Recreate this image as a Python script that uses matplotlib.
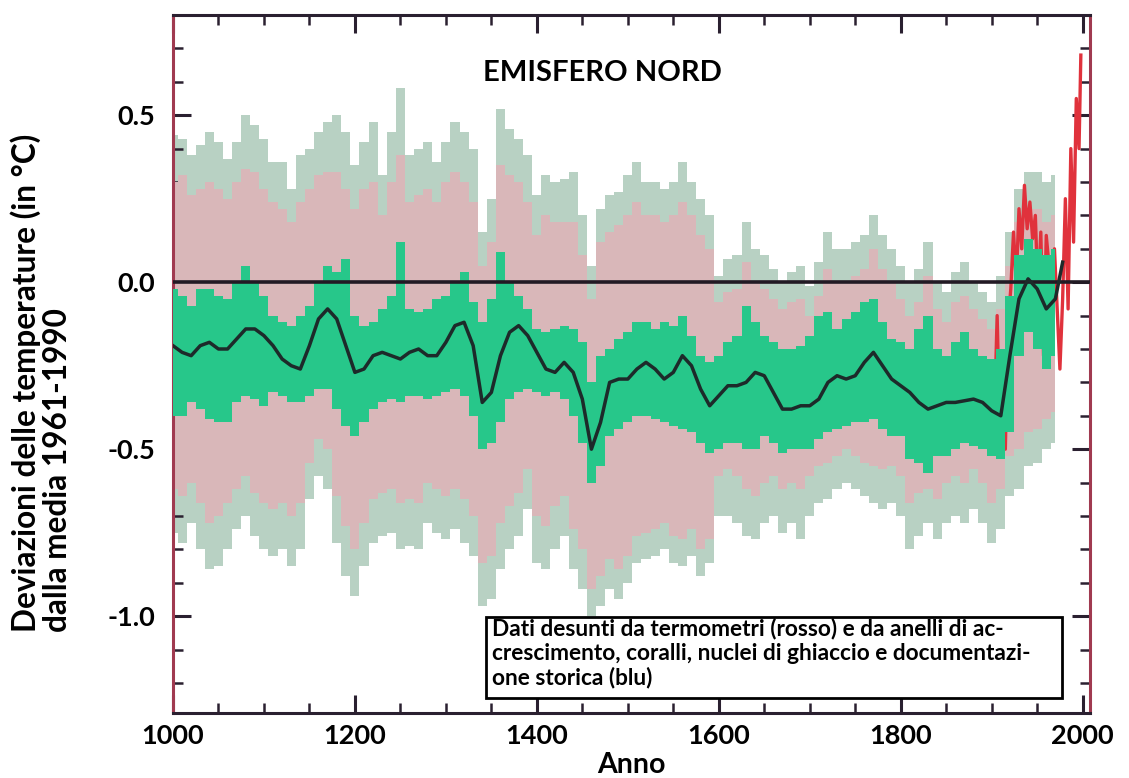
import numpy as np
import matplotlib.pyplot as plt
from matplotlib.patches import Rectangle
from matplotlib.ticker import MultipleLocator

plt.rcParams['font.family'] = ['Lato', 'DejaVu Sans']
plt.rcParams['font.weight'] = 'bold'

# ricostruzione da proxy, valori per decennio
anni = np.arange(1000, 1971, 10)

grigio_hi = [0.44, 0.43, 0.38, 0.41, 0.45, 0.42, 0.37, 0.42, 0.50, 0.47,
             0.43, 0.36, 0.36, 0.28, 0.38, 0.40, 0.45, 0.48, 0.50, 0.45,
             0.35, 0.42, 0.48, 0.32, 0.45, 0.58, 0.38, 0.40, 0.42, 0.36,
             0.42, 0.48, 0.45, 0.40, 0.15, 0.25, 0.52, 0.46, 0.43, 0.38,
             0.26, 0.32, 0.30, 0.31, 0.33, 0.20, 0.05, 0.22, 0.26, 0.27,
             0.32, 0.36, 0.30, 0.30, 0.28, 0.30, 0.36, 0.30, 0.25, 0.20,
             0.02, 0.07, 0.08, 0.18, 0.10, 0.08, 0.04, 0.00, 0.03, 0.05,
             -0.01, 0.06, 0.15, 0.10, 0.10, 0.12, 0.14, 0.20, 0.14, 0.10,
             0.05, 0.00, 0.04, 0.12, 0.00, -0.03, 0.03, 0.06, 0.00, -0.03,
             -0.06, 0.02, 0.15, 0.28, 0.33, 0.33, 0.30, 0.32]

grigio_lo = [-0.75, -0.78, -0.72, -0.80, -0.86, -0.85, -0.80, -0.74, -0.70, -0.76,
             -0.80, -0.82, -0.80, -0.85, -0.80, -0.65, -0.58, -0.62, -0.78, -0.88,
             -0.94, -0.85, -0.78, -0.76, -0.75, -0.80, -0.79, -0.80, -0.72, -0.75,
             -0.77, -0.74, -0.78, -0.82, -0.97, -0.95, -0.86, -0.80, -0.76, -0.68,
             -0.84, -0.86, -0.80, -0.76, -0.86, -0.92, -1.00, -0.97, -0.92, -0.95,
             -0.90, -0.84, -0.83, -0.82, -0.80, -0.84, -0.85, -0.82, -0.88, -0.84,
             -0.70, -0.70, -0.72, -0.76, -0.77, -0.72, -0.70, -0.75, -0.72, -0.77,
             -0.70, -0.66, -0.65, -0.62, -0.60, -0.62, -0.64, -0.66, -0.68, -0.66,
             -0.70, -0.80, -0.76, -0.72, -0.77, -0.72, -0.70, -0.72, -0.68, -0.72,
             -0.78, -0.74, -0.64, -0.62, -0.55, -0.54, -0.50, -0.48]

rosa_hi = [0.30, 0.32, 0.26, 0.28, 0.30, 0.28, 0.25, 0.30, 0.34, 0.33,
           0.28, 0.24, 0.22, 0.18, 0.24, 0.28, 0.32, 0.33, 0.33, 0.28,
           0.22, 0.28, 0.30, 0.20, 0.30, 0.38, 0.24, 0.26, 0.28, 0.24,
           0.30, 0.33, 0.30, 0.24, 0.05, 0.12, 0.35, 0.32, 0.30, 0.24,
           0.14, 0.20, 0.18, 0.18, 0.18, 0.08, -0.05, 0.12, 0.15, 0.17,
           0.20, 0.24, 0.20, 0.20, 0.18, 0.20, 0.24, 0.20, 0.14, 0.10,
           -0.06, -0.03, -0.02, 0.06, 0.00, -0.02, -0.05, -0.08, -0.06, -0.05,
           -0.10, -0.04, 0.04, 0.00, 0.00, 0.02, 0.04, 0.10, 0.04, 0.00,
           -0.05, -0.10, -0.06, 0.02, -0.08, -0.12, -0.06, -0.04, -0.08, -0.11,
           -0.14, -0.08, 0.05, 0.18, 0.22, 0.22, 0.18, 0.20]

rosa_lo = [-0.62, -0.64, -0.60, -0.66, -0.72, -0.70, -0.66, -0.62, -0.58, -0.63,
           -0.66, -0.68, -0.66, -0.70, -0.66, -0.54, -0.47, -0.50, -0.64, -0.73,
           -0.80, -0.72, -0.65, -0.63, -0.62, -0.66, -0.65, -0.66, -0.60, -0.62,
           -0.64, -0.62, -0.65, -0.70, -0.84, -0.82, -0.72, -0.67, -0.63, -0.56,
           -0.70, -0.73, -0.67, -0.64, -0.74, -0.80, -0.92, -0.88, -0.83, -0.86,
           -0.82, -0.76, -0.75, -0.74, -0.72, -0.76, -0.77, -0.74, -0.80, -0.77,
           -0.58, -0.56, -0.58, -0.62, -0.64, -0.60, -0.58, -0.62, -0.60, -0.62,
           -0.58, -0.55, -0.54, -0.52, -0.50, -0.52, -0.54, -0.55, -0.56, -0.55,
           -0.58, -0.66, -0.63, -0.62, -0.65, -0.60, -0.58, -0.60, -0.56, -0.60,
           -0.66, -0.62, -0.52, -0.50, -0.45, -0.44, -0.41, -0.39]

verde_hi = [-0.02, -0.04, -0.07, -0.02, -0.02, -0.04, -0.05, 0.00, 0.05, 0.00,
            -0.04, -0.10, -0.12, -0.13, -0.10, -0.07, 0.00, 0.05, 0.03, 0.07,
            -0.10, -0.13, -0.12, -0.08, -0.04, 0.12, -0.08, -0.09, -0.08, -0.05,
            -0.04, 0.00, 0.03, -0.06, -0.12, -0.05, 0.09, 0.00, -0.04, -0.08,
            -0.14, -0.15, -0.14, -0.13, -0.14, -0.18, -0.30, -0.22, -0.20, -0.17,
            -0.15, -0.12, -0.12, -0.14, -0.12, -0.13, -0.10, -0.16, -0.22, -0.24,
            -0.22, -0.18, -0.16, -0.07, -0.12, -0.16, -0.18, -0.20, -0.20, -0.19,
            -0.16, -0.10, -0.09, -0.14, -0.11, -0.09, -0.06, -0.05, -0.12, -0.17,
            -0.18, -0.20, -0.14, -0.10, -0.20, -0.22, -0.18, -0.15, -0.20, -0.22,
            -0.23, -0.20, -0.04, 0.08, 0.13, 0.10, 0.08, 0.10]

verde_lo = [-0.40, -0.40, -0.36, -0.38, -0.41, -0.42, -0.42, -0.36, -0.34, -0.35,
            -0.37, -0.33, -0.34, -0.36, -0.36, -0.34, -0.32, -0.32, -0.38, -0.43,
            -0.46, -0.42, -0.38, -0.36, -0.35, -0.36, -0.34, -0.34, -0.35, -0.34,
            -0.33, -0.32, -0.34, -0.40, -0.50, -0.48, -0.42, -0.35, -0.33, -0.32,
            -0.33, -0.34, -0.33, -0.35, -0.40, -0.48, -0.60, -0.55, -0.46, -0.44,
            -0.42, -0.40, -0.40, -0.41, -0.42, -0.43, -0.44, -0.45, -0.48, -0.51,
            -0.50, -0.48, -0.48, -0.50, -0.50, -0.46, -0.48, -0.51, -0.50, -0.50,
            -0.50, -0.47, -0.45, -0.44, -0.43, -0.42, -0.42, -0.41, -0.44, -0.46,
            -0.46, -0.53, -0.54, -0.57, -0.52, -0.52, -0.50, -0.48, -0.49, -0.50,
            -0.52, -0.53, -0.45, -0.22, -0.15, -0.20, -0.26, -0.22]

# curva smussata (nera)
anni_media = np.r_[np.arange(1000, 1971, 10), 1978]
media = [-0.19, -0.21, -0.22, -0.19, -0.18, -0.20, -0.20, -0.17, -0.14, -0.14,
         -0.16, -0.19, -0.23, -0.25, -0.26, -0.19, -0.11, -0.08, -0.11, -0.19,
         -0.27, -0.26, -0.22, -0.21, -0.22, -0.23, -0.21, -0.20, -0.22, -0.22,
         -0.18, -0.13, -0.12, -0.19, -0.36, -0.33, -0.22, -0.15, -0.13, -0.16,
         -0.21, -0.26, -0.27, -0.24, -0.27, -0.35, -0.50, -0.42, -0.30, -0.29,
         -0.29, -0.26, -0.24, -0.26, -0.29, -0.27, -0.22, -0.25, -0.32, -0.37,
         -0.34, -0.31, -0.31, -0.30, -0.27, -0.28, -0.33, -0.38, -0.38, -0.37,
         -0.37, -0.35, -0.30, -0.28, -0.29, -0.28, -0.24, -0.21, -0.25, -0.29,
         -0.31, -0.33, -0.36, -0.38, -0.37, -0.36, -0.36, -0.355, -0.35, -0.36,
         -0.385, -0.40, -0.22, -0.05, 0.01, -0.02, -0.08, -0.05, 0.06]

# dati dei termometri (rosso)
anni_termo = [1900, 1903, 1906, 1909, 1912, 1915, 1918, 1921, 1924, 1927,
              1930, 1933, 1936, 1939, 1942, 1945, 1948, 1951, 1954, 1957,
              1960, 1963, 1966, 1969, 1972, 1975, 1978, 1981, 1984, 1987,
              1990, 1993, 1996, 1998]
termometri = [-0.25, -0.40, -0.10, -0.45, -0.25, -0.50, -0.12, -0.02, 0.15, 0.00,
              0.22, 0.10, 0.29, 0.16, 0.24, 0.13, 0.20, -0.05, 0.15, -0.22,
              0.14, 0.05, -0.12, 0.10, -0.08, -0.26, -0.05, 0.25, -0.08, 0.40,
              0.12, 0.55, 0.40, 0.68]

fig = plt.figure(figsize=(11.29, 7.78), dpi=100)
ax = fig.add_axes([0.1532, 0.0835, 0.8122, 0.8972])

ax.fill_between(anni, grigio_lo, grigio_hi, step='mid', color='#b8d1c3', lw=0, zorder=1)
ax.fill_between(anni, rosa_lo, rosa_hi, step='mid', color='#d9b7b9', lw=0, zorder=2)
ax.plot(anni_termo, termometri, color='#e0323c', lw=2.4, zorder=3)
ax.fill_between(anni, verde_lo, verde_hi, step='mid', color='#27c78a', lw=0, zorder=4)
ax.axhline(0, color='#221a24', lw=2.6, zorder=5)
ax.plot(anni_media, media, color='#1d2a2a', lw=2.5, zorder=6)

ax.set_xlim(1000, 2008)
ax.set_ylim(-1.29, 0.80)
ax.set_xticks(range(1000, 2001, 200))
ax.xaxis.set_minor_locator(MultipleLocator(50))
ax.set_yticks([-1.0, -0.5, 0.0, 0.5], ['-1.0', '-0.5', '0.0', '0.5'])
ax.yaxis.set_minor_locator(MultipleLocator(0.1))
ax.tick_params(which='both', direction='in', top=True, right=True, color='#2a2030')
ax.tick_params(which='major', length=13, width=2.2, labelsize=19.5)
ax.tick_params(which='minor', length=7, width=1.8)
ax.tick_params(axis='x', pad=8)
ax.tick_params(axis='y', pad=13)
for lato in ['top', 'bottom']:
    ax.spines[lato].set_color('#2a2030')
    ax.spines[lato].set_linewidth(2.2)
for lato in ['left', 'right']:
    ax.spines[lato].set_color('#a03a50')
    ax.spines[lato].set_linewidth(2.2)

ax.text(1472, 0.626, 'EMISFERO NORD', ha='center', va='center', fontsize=21, zorder=7)

ax.add_patch(Rectangle((0.341, 0.0215), 0.628, 0.116, transform=ax.transAxes,
                       facecolor='white', edgecolor='black', lw=2, zorder=8))
ax.text(0.348, 0.136,
        'Dati desunti da termometri (rosso) e da anelli di ac-\n'
        'crescimento, coralli, nuclei di ghiaccio e documentazi-\n'
        'one storica (blu)',
        transform=ax.transAxes, ha='left', va='top', fontsize=16.3,
        linespacing=1.17, zorder=9)

fig.text(0.559, 0.0167, 'Anno', ha='center', va='center', fontsize=20.5)
fig.text(0.0368, 0.1877, 'Deviazioni delle temperature (in °C)\ndalla media 1961-1990',
         rotation=90, ha='center', va='bottom', multialignment='left',
         fontsize=22.7, linespacing=1.08)

fig.savefig('out.png', dpi=100)
